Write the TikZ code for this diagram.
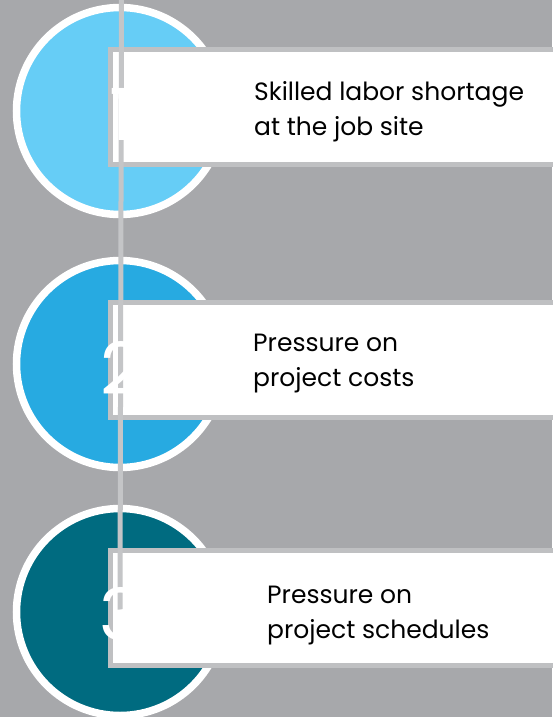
\documentclass[tikz,border=0pt]{standalone}
\usepackage{fontspec}
\setmainfont{Poppins}
\definecolor{bg}{HTML}{A7A8AB}
\definecolor{cone}{HTML}{66CDF6}
\definecolor{ctwo}{HTML}{27AAE1}
\definecolor{cthree}{HTML}{006B80}
\definecolor{boxborder}{HTML}{BFC0C2}
\definecolor{tline}{HTML}{C4C5C7}
\begin{document}
\begin{tikzpicture}[x=1pt,y=-1pt,
  disc/.style={circle,draw=white,line width=7.5pt,minimum size=207pt,inner sep=0pt},
  card/.style={draw=boxborder,fill=white,line width=5pt},
  num/.style={text=white,font=\fontsize{72}{72}\selectfont,inner sep=0pt},
  label/.style={anchor=base west,align=left,inner sep=0pt,font=\fontsize{25}{34.5}\selectfont}]
\useasboundingbox (0,0) rectangle (552,717);
\fill[bg] (0,0) rectangle (552,717);
\node[disc,fill=cone] (c1) at (120,111) {};
\node[disc,fill=ctwo] (c2) at (120,364) {};
\node[disc,fill=cthree] (c3) at (120,612) {};
\draw[card] (110.5,49.5) rectangle (570,164.5);
\draw[card] (110.5,302.5) rectangle (570,417.5);
\draw[card] (110.5,550.5) rectangle (570,665.5);
\coordinate (top) at (121.5,-5);
\draw[tline,line width=5pt] (top) -- (c3.center);
\node[num] (n1) at (121,114) {1};
\node[num] (n2) at (121,368) {2};
\node[num] (n3) at (121,614) {3};
\node[label] (t1) at (254,135) {Skilled labor shortage\\at the job site};
\node[label] (t2) at (253,386) {Pressure on\\project costs};
\node[label] (t3) at (267,638) {Pressure on\\project schedules};
\end{tikzpicture}
\end{document}
